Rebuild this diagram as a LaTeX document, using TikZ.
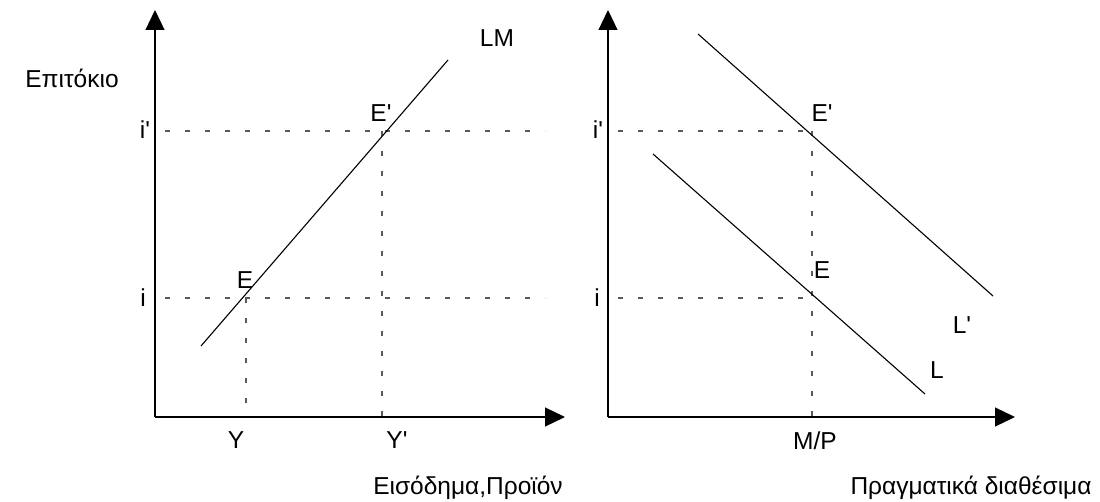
\documentclass[tikz,border=0pt]{standalone}
\usepackage{fontspec}
\setmainfont{Liberation Sans}
\usetikzlibrary{arrows.meta}
\newcommand{\pr}{\textquotesingle}
\begin{document}
\begin{tikzpicture}[x=1pt,y=-1pt,
  axis/.style={line width=1.2pt,-{Triangle[length=20pt,width=19pt]}},
  curve/.style={line width=1.1pt},
  guide/.style={line width=1.1pt,black!65,dash pattern=on 5pt off 15pt},
  lbl/.style={inner sep=0pt,font=\fontsize{24.5}{28}\selectfont}]
\useasboundingbox (0,0) rectangle (1100,502);
% left panel
\coordinate (O1) at (155,417);
\coordinate (T1) at (155,10);
\coordinate (R1) at (565,417);
\draw[axis] (O1) -- (T1);
\draw[axis] (O1) -- (R1);
\coordinate (a1) at (165,131);
\coordinate (a2) at (545,131);
\coordinate (b1) at (165,298);
\coordinate (b2) at (545,298);
\draw[guide] (a1) -- (a2);
\draw[guide] (b1) -- (b2);
\coordinate (c1) at (246,298);
\coordinate (c2) at (246,417);
\coordinate (d1) at (382,131);
\coordinate (d2) at (382,417);
\draw[guide] (c1) -- (c2);
\draw[guide] (d1) -- (d2);
\coordinate (lm1) at (201,346);
\coordinate (lm2) at (448,60);
\draw[curve] (lm1) -- (lm2);
\node[lbl] (tLM) at (497,38) {LM};
\node[lbl] (tEp) at (72,78) {Επιτόκιο};
\node[lbl] (tE1) at (381,113) {E\pr};
\node[lbl] (ti1) at (145,130) {i\pr};
\node[lbl] (tE0) at (245,280) {E};
\node[lbl] (ti0) at (143,298) {i};
\node[lbl] (tY) at (236,440) {Y};
\node[lbl] (tY1) at (397,440) {Y\pr};
\node[lbl] (tinc) at (468,488) {Εισόδημα,Προϊόν};
% right panel
\coordinate (O2) at (608,417);
\coordinate (T2) at (608,10);
\coordinate (R2) at (1015,417);
\draw[axis] (O2) -- (T2);
\draw[axis] (O2) -- (R2);
\coordinate (e1) at (618,131);
\coordinate (e2) at (812,131);
\coordinate (f1) at (618,298);
\coordinate (f2) at (812,298);
\draw[guide] (e1) -- (e2);
\draw[guide] (f1) -- (f2);
\coordinate (g2) at (812,417);
\draw[guide] (e2) -- (g2);
\coordinate (L1) at (653,154);
\coordinate (L2) at (925,394);
\coordinate (Lp1) at (698,34);
\coordinate (Lp2) at (993,296);
\draw[curve] (L1) -- (L2);
\draw[curve] (Lp1) -- (Lp2);
\node[lbl] (rE1) at (822,113) {E\pr};
\node[lbl] (ri1) at (598,130) {i\pr};
\node[lbl] (rLp) at (962,325) {L\pr};
\node[lbl] (rE0) at (822,270) {E};
\node[lbl] (ri0) at (597,298) {i};
\node[lbl] (rL) at (937,370) {L};
\node[lbl] (rMP) at (815,441) {M/P};
\node[lbl] (rreal) at (971,488) {Πραγματικά διαθέσιμα};
\end{tikzpicture}
\end{document}
